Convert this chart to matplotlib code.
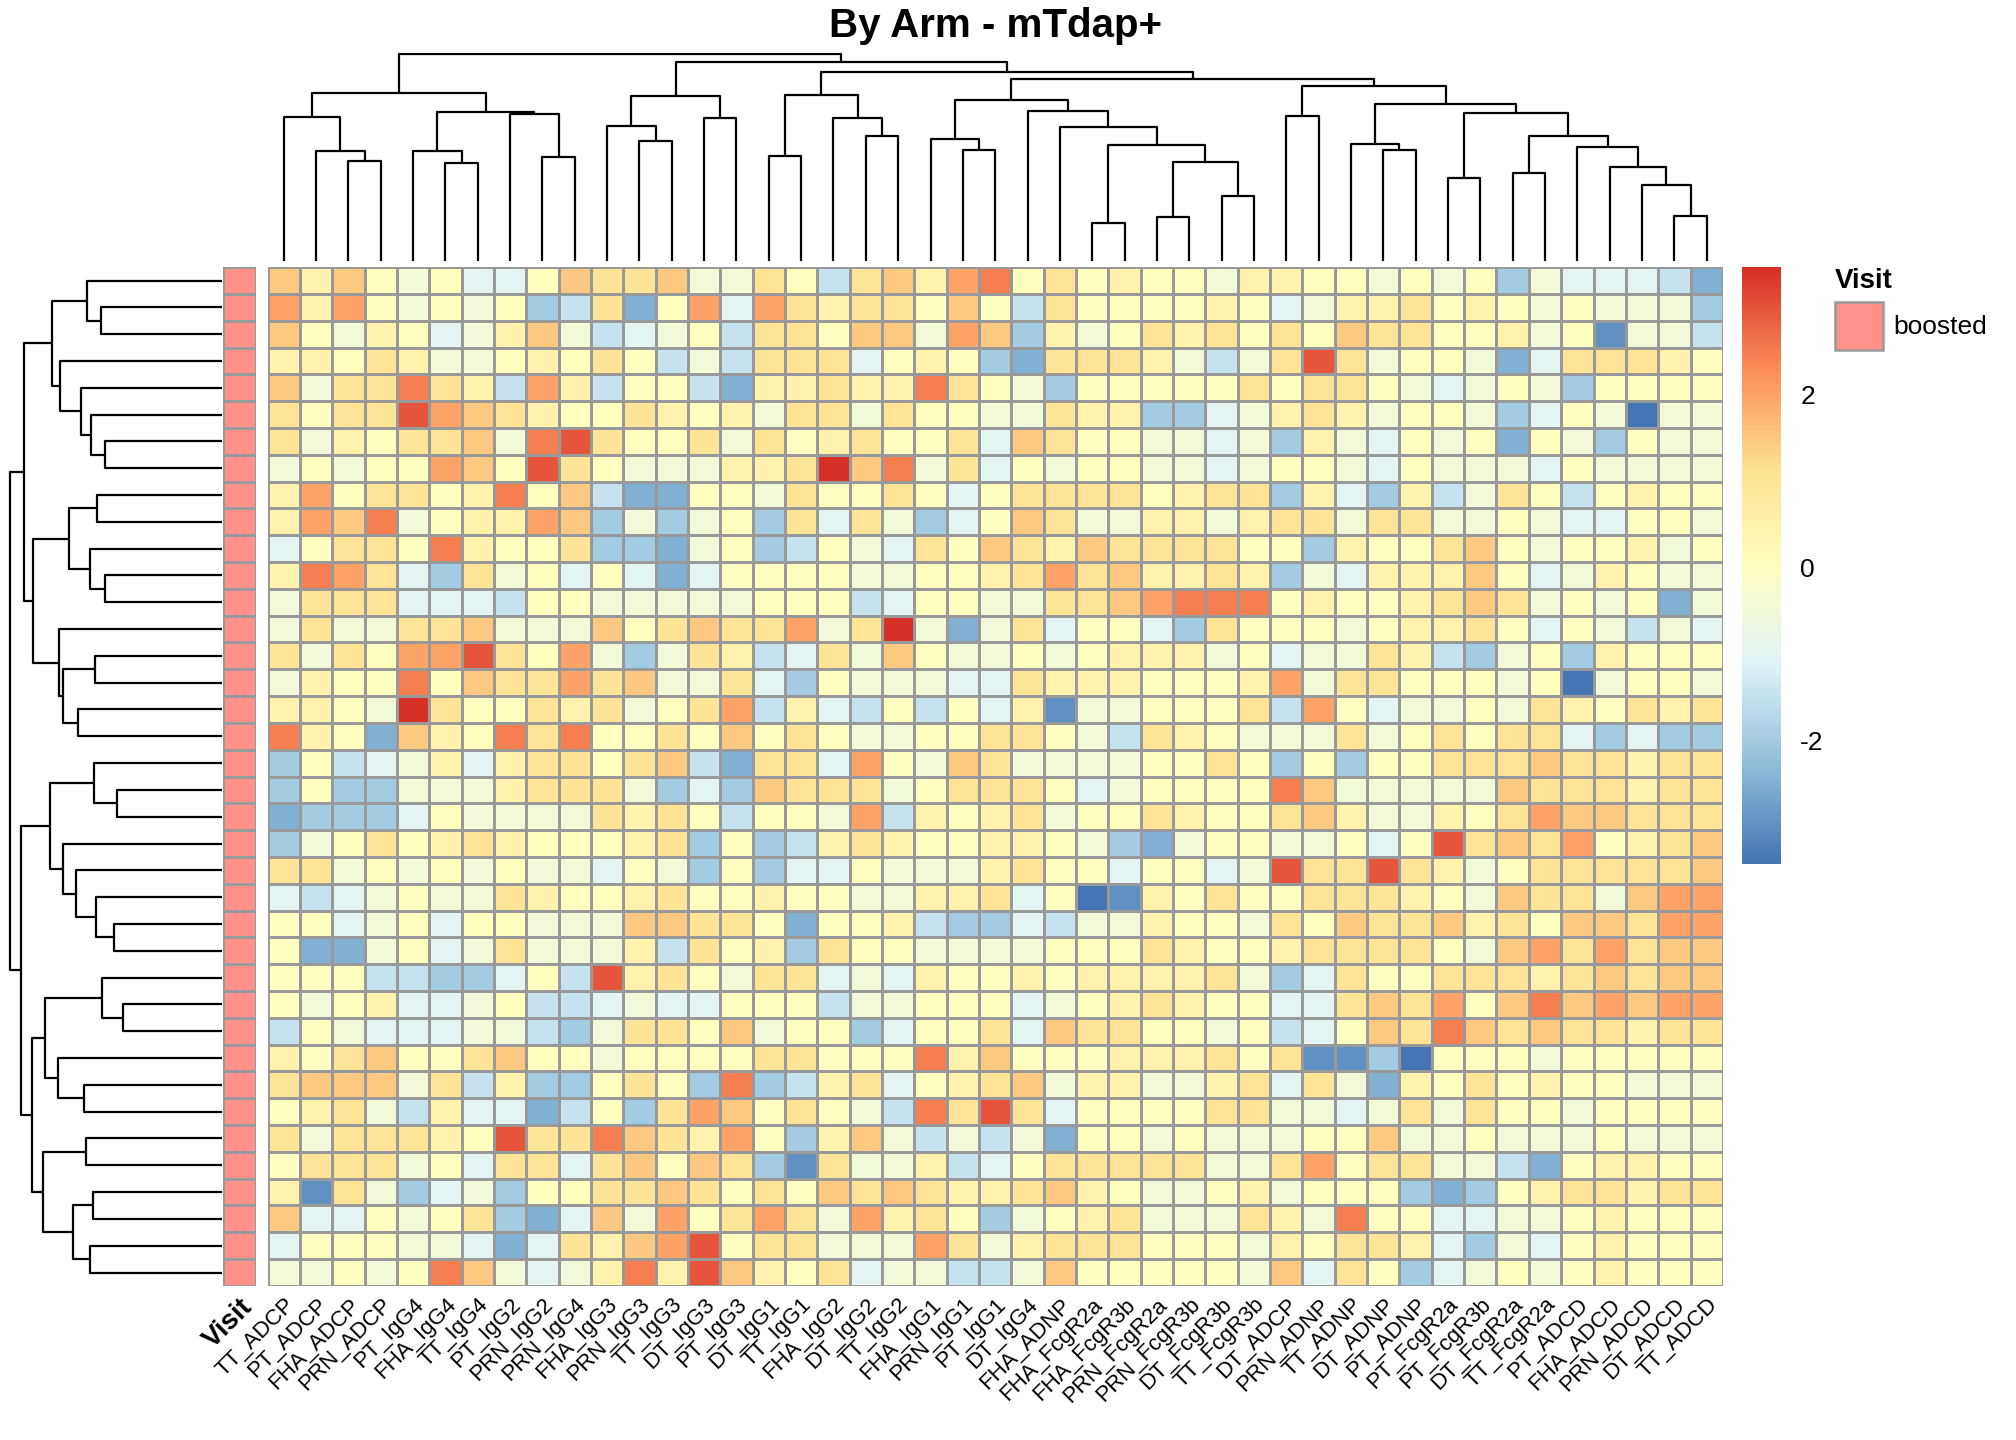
import numpy as np
import matplotlib
matplotlib.use("Agg")
import matplotlib.pyplot as plt
from matplotlib.colors import LinearSegmentedColormap

plt.rcParams['font.family'] = ['Liberation Sans', 'DejaVu Sans']

# column names, in dendrogram order
col_labels = ["TT_ADCP", "PT_ADCP", "FHA_ADCP", "PRN_ADCP", "PT_IgG4", "FHA_IgG4",
              "TT_IgG4", "PT_IgG2", "PRN_IgG2", "PRN_IgG4", "FHA_IgG3", "PRN_IgG3",
              "TT_IgG3", "DT_IgG3", "PT_IgG3", "DT_IgG1", "TT_IgG1", "FHA_IgG2",
              "DT_IgG2", "TT_IgG2", "FHA_IgG1", "PRN_IgG1", "PT_IgG1", "DT_IgG4",
              "FHA_ADNP", "FHA_FcgR2a", "FHA_FcgR3b", "PRN_FcgR2a", "PRN_FcgR3b",
              "DT_FcgR3b", "TT_FcgR3b", "DT_ADCP", "PRN_ADNP", "TT_ADNP", "DT_ADNP",
              "PT_ADNP", "PT_FcgR2a", "PT_FcgR3b", "DT_FcgR2a", "TT_FcgR2a",
              "PT_ADCD", "FHA_ADCD", "PRN_ADCD", "DT_ADCD", "TT_ADCD"]

# z-scores, coded A..O = -3.5 .. 3.5 in steps of 0.5
code_rows = [
    "KIKHGHFFHKJJKGG" "JHEJKILMHJHIHHG" "IIHHGHGHDGFFFEC",
    "LILHGHGHDEJCHLF" "LJIJJHKHEJHHHHI" "HFGIIJHIHGHGGGD",
    "KHGIHFGIKGEFGHE" "JJHKKGLKDIGHJIJ" "HJHKJJHHIGHBGGE",
    "IIHJIGGHIHJHEGE" "JJJFHIHDCJJJIGE" "GJNJGHHGCFJJJIH",
    "KGJJMJIELIEHHEC" "IIJIIMJHGDHHHHH" "JHJJHGFGHGDHHHH",
    "JHJJNLKJIHHJIHI" "GJJGJHHGGJIIDDF" "GIJIGHHGDFHGAGG",
    "JGIHJJKGMNJHHJG" "JHIJHHJFKJHHGGF" "GDIGFHGHCHGDHGG",
    "GHGHHLKHNJHGGGI" "IJOKMGJFHGHHGGF" "GHHGFHGGGFHGGGG",
    "ILHJJHIMHKECCHH" "GJHHJHFHJJJJHIJ" "JDIFDIEGJHEHIHH",
    "ILKMGHIILKDGDGH" "DJFJGDFHKJGGIIG" "IJJGJJGGHGFFHHG",
    "FHJJHMIHHJDDCGH" "DEHGFJHKJIKJJJJ" "HHDIHHJKHGHHIGH",
    "IMLJFDJGHFHFCFH" "HHHGGHHIJLJKIIJ" "IDGFIIIKHFGIHGG",
    "GJJJFFFEHHGGGGG" "HHHEFHHGGJJKLMM" "MHIHHIJKJGHGHCG",
    "GJGGJJKGGGKHJKJ" "JLGJOGCGJFHHFDJ" "HHHGHIIJHFHGEGF",
    "JGJHLLNJHLGDGJI" "EFJGKHGGHGHIIIG" "HFGGJIEDGHDIHHH",
    "GIHHMHKJJLJKGGJ" "FDHGGGFFJIIIHHH" "ILGJJHHHGHAGHHG",
    "IIHGOJHHJIJGHJL" "EIFEHEHFIBGGHHH" "JELHFGGHGJIHJIJ",
    "MIHCKIHMJMHHJHK" "HJHGGHHJJHGEJIH" "GGGJGHJHJJFDFDD",
    "DHEFGIFIJJHJKEC" "JJFLHGKJGGGGHHJ" "HDHDHHJJJKJJIJJ",
    "DHDDGGGIJJJGDFD" "KJJJGHJJJHFGHHH" "HMKGGGGGKJJJIJJ",
    "CDDDFHGGGGJIJHE" "HHGLEIHIJGHHJIH" "HJKIGGIHJLKKJJJ",
    "DGHJHIJIHHHIJDH" "DEIJIHHIIHGDCGH" "HGGHFHNJKJLHIJK",
    "JJGHGHGHGGFHGDH" "DFFHGGGIJHHFHHF" "GNJJNJIGHJJJJJK",
    "FEFGHGGJIHHIJHH" "IHHGGIIJFHABIHJ" "HHJJJIHGKJJGKLL",
    "HHFGHFHHGGGKKJJ" "HCHHIEDDFEGGIHH" "GJHKJJKIJHKKJLL",
    "HCCGHFGJGGGIEJH" "IDJHHGGGGHHHJIH" "HIJJJJHGKLJLJKK",
    "HHHEEDDFHENIJHG" "JJFGFIHHIHIIIIJ" "GDFJHHJJJIJKJKK",
    "HGHIFFGHEEFGFFH" "HHEGGHHHFGHIJIH" "HFFJKJLHKMKLKLL",
    "EHGFFFGGEDGJJHK" "GHHDFHHJFKJJHHG" "HEFHKJMKJKJJIJJ",
    "IHJKHHJKHHGHHHH" "JJHHHMIKHHHIIIJ" "HJBBDAHHHGHHHHH",
    "JKKKGJEIDDHJHDM" "DEIJFHIJKGIIGGI" "JFJGCIHJHIHHGGG",
    "HIJGEIFFCEHDJLK" "HJHGEMJNJFHHHHJ" "JGGFGJGJHHGHHHH",
    "JGJJJIHNJJMKJIL" "HDIKGEGEGCHHGHG" "GGHHKGGHGGGHGGG",
    "HJJJGHFJJFJKHKJ" "DBJGGIEFHJJJJJG" "GJLHJJGGECHIIHH",
    "IBJGDFGDHHJJKJH" "JHKJKJIIJKIHGGH" "IGHHHDCDHIJJIJJ",
    "KFFHGHJDCFKGLHJ" "LJGLIJHDGHIJGGG" "JIGMHHFFGGHIHHH",
    "FHHHGGFCFJIKLNH" "JJGGGLJGIJJJHHH" "GIHJJIFDGFHIHHH",
    "GGHGHMKGFGIMINK" "IHJFGGEEGKHHHHH" "GKFJHDFGHGHIHHH",
]
values = np.array([[-3.5 + 0.5 * (ord(c) - ord('A')) for c in r] for r in code_rows])
n_rows, n_cols = values.shape

visit = ["boosted"] * n_rows

# dendrograms: (left, right, height), leaves are positions
col_tree = (
    ((0, (1, (2, 3, 302), 333), 435), ((4, (5, 6, 296), 333), (7, (8, 9, 315), 446), 453), 510),
    (((10, (11, 12, 365), 410), (13, 14, 434), 500),
     (((15, 16, 318), (17, (18, 19, 378), 432), 503),
      (((20, (21, 22, 335), 369),
        (23, (24, ((25, 26, 115), ((27, 28, 134), (29, 30, 196), 299), 350), 407), 456), 488),
       ((31, 32, 440),
        ((33, (34, 35, 335), 354),
         ((36, 37, 251), ((38, 39, 266), (40, (41, (42, (43, 44, 137), 231), 284), 345), 380), 448),
         475), 532), 551), 572), 605), 627)

row_tree = (
    (((0, (1, 2, 362), 403), (3, (4, (5, (6, 7, 349), 393), 422), 485), 509),
     (((8, 9, 373), (10, (11, 12, 349), 395), 458),
      (13, ((14, 15, 381), (16, 17, 432), 476), 487), 564), 593),
    (((18, (19, 20, 314), 382), (21, (22, (23, (24, 25, 322), 376), 436), 474), 513),
     ((((26, (27, 28, 295), 359), (29, (30, 31, 412), 490), 528),
       ((32, 33, 407), ((34, 35, 386), (36, 37, 394), 446), 536), 569)), 600), 635)


def draw_tree(ax, node, vertical):
    if isinstance(node, int):
        return node + 0.5, 0
    xl, hl = draw_tree(ax, node[0], vertical)
    xr, hr = draw_tree(ax, node[1], vertical)
    h = node[2]
    xs = [xl, xl, xr, xr]
    hs = [hl, h, h, hr]
    if vertical:
        ax.plot(xs, hs, color='black', lw=1.6, solid_capstyle='butt')
    else:
        ax.plot(hs, xs, color='black', lw=1.6, solid_capstyle='butt')
    return (xl + xr) / 2, h


cmap = LinearSegmentedColormap.from_list(
    "rdylbu", ["#4575B4", "#91BFDB", "#E0F3F8", "#FFFFBF", "#FEE090", "#FC8D59", "#D73027"])
vmin, vmax = -3.42, 3.47

fig = plt.figure(figsize=(20.16, 14.4), dpi=100)
hx0, hx1, hy0, hy1 = 0.1327, 0.8546, 0.107, 0.8145

ax = fig.add_axes([hx0, hy0, hx1 - hx0, hy1 - hy0])
ax.pcolormesh(values, cmap=cmap, vmin=vmin, vmax=vmax, edgecolors='#999999', linewidth=1.8)
ax.set_xlim(0, n_cols)
ax.set_ylim(n_rows, 0)
ax.set_xticks(np.arange(n_cols) + 0.5)
ax.set_xticklabels(col_labels, rotation=45, ha='right', va='top', fontsize=16,
                   rotation_mode='anchor')
ax.tick_params(length=0, pad=6)
ax.set_yticks([])
for s in ax.spines.values():
    s.set_visible(False)

# annotation column
axa = fig.add_axes([0.1105, hy0, 0.0165, hy1 - hy0])
ann = np.zeros((n_rows, 1))
axa.pcolormesh(ann, cmap=LinearSegmentedColormap.from_list("v", ["#FF918A", "#FF918A"]),
               edgecolors='#999999', linewidth=1.8)
axa.set_ylim(n_rows, 0)
axa.set_xticks([0.5])
axa.set_xticklabels(["Visit"], rotation=45, ha='right', va='top', fontsize=20,
                    fontweight='bold', rotation_mode='anchor')
axa.tick_params(length=0, pad=6)
axa.set_yticks([])
for s in axa.spines.values():
    s.set_visible(False)

# column dendrogram
axc = fig.add_axes([hx0, 0.819, hx1 - hx0, 0.144])
draw_tree(axc, col_tree, True)
axc.set_xlim(0, n_cols)
axc.set_ylim(0, 630)
axc.axis('off')

# row dendrogram
axr = fig.add_axes([0.004, hy0, 0.106, hy1 - hy0])
draw_tree(axr, row_tree, False)
axr.set_ylim(n_rows, 0)
axr.set_xlim(640, 0)
axr.axis('off')

# colour bar
axb = fig.add_axes([0.8642, 0.40, 0.0191, hy1 - 0.40])
grad = np.linspace(vmin, vmax, 200).reshape(-1, 1)
axb.imshow(grad, cmap=cmap, vmin=vmin, vmax=vmax, aspect='auto', origin='lower',
           extent=[0, 1, vmin, vmax])
axb.set_xticks([])
axb.yaxis.tick_right()
axb.set_yticks([-2, 0, 2])
axb.set_yticklabels(["-2", "0", "2"], fontsize=19)
axb.tick_params(length=0, pad=14)
for s in axb.spines.values():
    s.set_visible(False)

# Visit legend
fig.text(0.910, 0.805, "Visit", fontsize=20, fontweight='bold', ha='left', va='center')
fig.patches.append(plt.Rectangle((0.910, 0.757), 0.024, 0.033, transform=fig.transFigure,
                                 facecolor='#FF918A', edgecolor='#999999', lw=1.8))
fig.text(0.939, 0.773, visit[0], fontsize=19, ha='left', va='center')

fig.text((hx0 + hx1) / 2, 0.982, "By Arm - mTdap+", fontsize=29, fontweight='bold',
         ha='center', va='center')

fig.savefig("out.png", dpi=100)
